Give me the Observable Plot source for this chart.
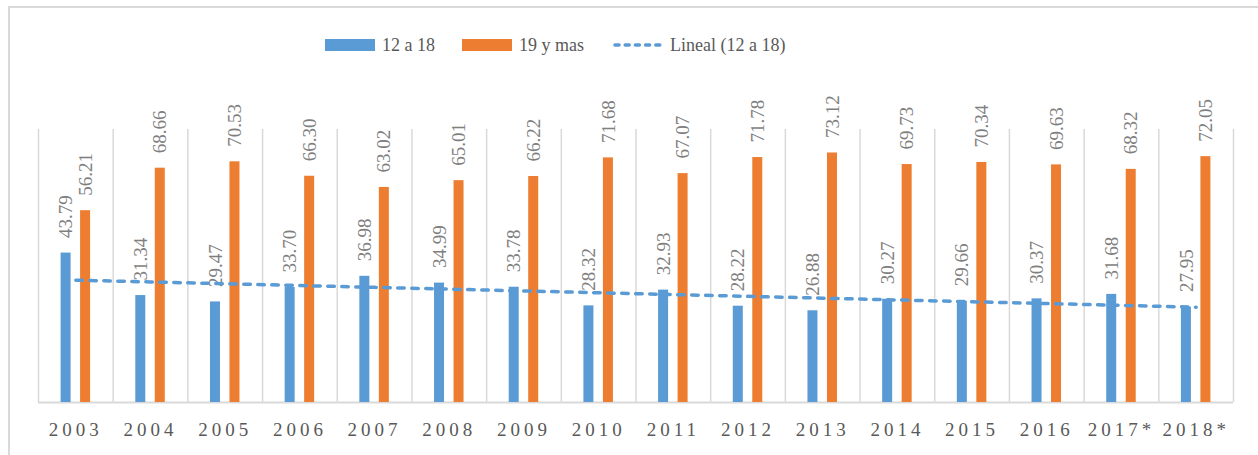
<!DOCTYPE html>
<html><head><meta charset="utf-8">
<script src="https://cdn.jsdelivr.net/npm/d3@7"></script>
<script src="https://cdn.jsdelivr.net/npm/@observablehq/plot@0.6"></script>
<style>
body{margin:0;background:#fff;}
#wrap{position:relative;width:1258px;height:455px;overflow:hidden;font-family:"Liberation Serif",Tinos,"Times New Roman","DejaVu Serif",serif;}
#frame{position:absolute;left:8px;top:6px;width:1300px;height:500px;border:2px solid #d9d9d9;box-sizing:border-box;}
#legend{position:relative;width:1258px;height:88px;}
.item{position:absolute;top:33px;height:24px;display:flex;align-items:center;font-size:18px;color:#595959;white-space:nowrap;}
.sw{width:50px;height:12px;margin-right:7px;}
#chart{position:relative;}
#chart svg, #chart svg text{font-family:"Liberation Serif",Tinos,"Times New Roman","DejaVu Serif",serif !important;}
#chart svg g[aria-label="x-axis tick label"] text{letter-spacing:4px;}
</style></head>
<body>
<div id="wrap">
  <div id="frame"></div>
  <div id="legend"></div>
  <div id="chart"></div>
</div>
<script>
const years = ["2003","2004","2005","2006","2007","2008","2009","2010","2011","2012","2013","2014","2015","2016","2017*","2018*"];
const youth = [43.79,31.34,29.47,33.70,36.98,34.99,33.78,28.32,32.93,28.22,26.88,30.27,29.66,30.37,31.68,27.95];
const adults = [56.21,68.66,70.53,66.30,63.02,65.01,66.22,71.68,67.07,71.78,73.12,69.73,70.34,69.63,68.32,72.05];
const seriesNames = ["12 a 18","19 y mas","Lineal (12 a 18)"];
const colors = ["#5B9BD5","#ED7D31"];

const n = years.length;
const idx = d3.range(n);
const mx = d3.mean(idx), my = d3.mean(youth);
const slope = d3.sum(idx, i => (i - mx) * (youth[i] - my)) / d3.sum(idx, i => (i - mx) ** 2);
const trend = idx.map(i => my + slope * (i - mx));

// legend
const legend = document.getElementById("legend");
const lefts = [325, 462, 613];
seriesNames.forEach((name, k) => {
  const it = document.createElement("div");
  it.className = "item";
  it.style.left = lefts[k] + "px";
  if (k < 2) {
    const sw = document.createElement("div");
    sw.className = "sw";
    sw.style.background = colors[k];
    it.appendChild(sw);
  } else {
    const ns = "http://www.w3.org/2000/svg";
    const s = document.createElementNS(ns, "svg");
    s.setAttribute("width", 54); s.setAttribute("height", 12);
    s.style.marginRight = "3px";
    const l = document.createElementNS(ns, "line");
    l.setAttribute("x1", 2); l.setAttribute("x2", 52);
    l.setAttribute("y1", 6); l.setAttribute("y2", 6);
    l.setAttribute("stroke", colors[0]); l.setAttribute("stroke-width", 3.5);
    l.setAttribute("stroke-linecap", "round");
    l.setAttribute("stroke-dasharray", "4,6.2");
    s.appendChild(l);
    it.appendChild(s);
  }
  const t = document.createElement("span");
  t.textContent = name;
  it.appendChild(t);
  legend.appendChild(it);
});

const W = 1258, H = 367, ml = 38, mr = 25, mt = 41, mb = 53;
const bw = (W - ml - mr) / n;
const off = 9.75, half = 5;
const grid = {stroke: "#d9d9d9", strokeWidth: 1.5};

const chart = Plot.plot({
  width: W, height: H,
  marginLeft: ml, marginRight: mr, marginTop: mt, marginBottom: mb,
  style: {fontFamily: '"Liberation Serif",Tinos,"Times New Roman","DejaVu Serif",serif', background: "transparent", overflow: "visible"},
  x: {type: "band", domain: years, padding: 0, round: false},
  y: {domain: [0, 80], axis: null},
  marks: [
    Plot.ruleX(years, {x: d => d, y1: 0, y2: 80, dx: -bw / 2, ...grid}),
    Plot.ruleX([years[n - 1]], {x: d => d, y1: 0, y2: 80, dx: bw / 2, ...grid}),
    Plot.ruleY([0], {stroke: "#d9d9d9", strokeWidth: 2}),
    Plot.barY(idx, {x: i => years[i], y: i => youth[i], fill: colors[0],
      insetLeft: bw / 2 - off - half, insetRight: bw / 2 + off - half}),
    Plot.barY(idx, {x: i => years[i], y: i => adults[i], fill: colors[1],
      insetLeft: bw / 2 + off - half, insetRight: bw / 2 - off - half}),
    Plot.text(idx, {x: i => years[i], y: i => youth[i], text: i => youth[i].toFixed(2),
      rotate: -90, textAnchor: "start", dx: -off, dy: -15, fontSize: 19, fill: "#7f7f7f"}),
    Plot.text(idx, {x: i => years[i], y: i => adults[i], text: i => adults[i].toFixed(2),
      rotate: -90, textAnchor: "start", dx: off, dy: -15, fontSize: 19, fill: "#7f7f7f"}),
    Plot.line(idx, {x: i => years[i], y: i => trend[i], stroke: colors[0], strokeWidth: 3.5,
      strokeLinecap: "round", strokeDasharray: "6.5,7.5"}),
    Plot.axisX({tickSize: 0, tickPadding: 20, fontSize: 19, fill: "#595959", label: null})
  ]
});
document.getElementById("chart").appendChild(chart);
</script>
</body></html>
